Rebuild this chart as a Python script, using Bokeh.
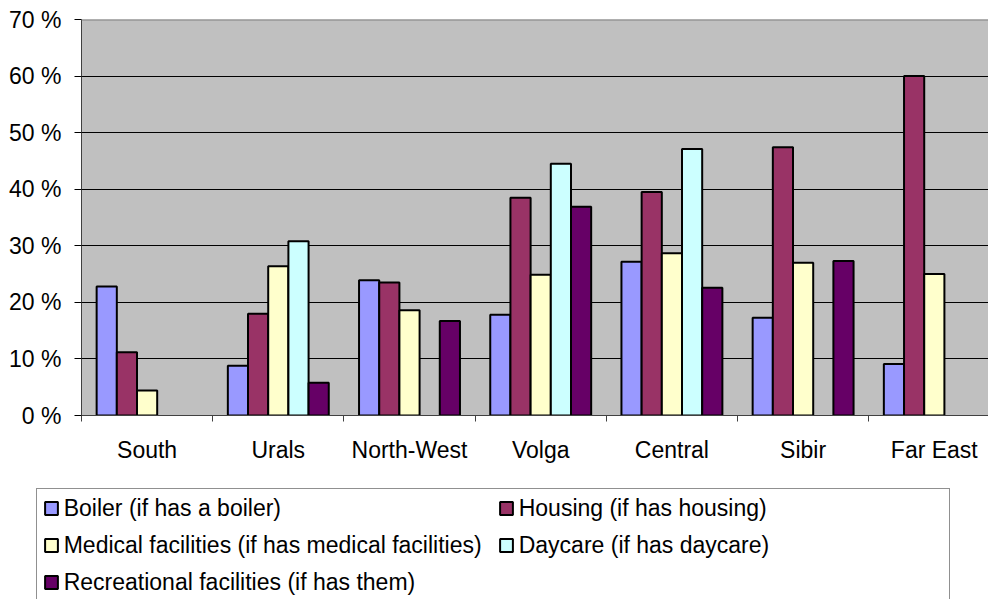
from bokeh.plotting import figure
from bokeh.layouts import column
from bokeh.models import (ColumnDataSource, Range1d, FixedTicker, PrintfTickFormatter,
                          Legend, LegendItem, Span)
from bokeh.transform import dodge
from bokeh.embed import file_html
from bokeh.resources import INLINE

nan = float("nan")

categories = ["South", "Urals", "North-West", "Volga", "Central", "Sibir", "Far East"]
series_names = [
    "Boiler (if has a boiler)",
    "Housing (if has housing)",
    "Medical facilities (if has medical facilities)",
    "Daycare (if has daycare)",
    "Recreational facilities (if has them)",
]
boiler = [22.8, 8.8, 23.9, 17.8, 27.2, 17.3, 9.1]
housing = [11.2, 18.0, 23.5, 38.5, 39.5, 47.4, 60.0]
medical = [4.4, 26.4, 18.6, 24.9, 28.7, 27.0, 25.0]
daycare = [nan, 30.8, nan, 44.5, 47.1, nan, nan]
recreational = [nan, 5.8, 16.7, 36.9, 22.6, 27.3, nan]
colors = ["#9999FF", "#993366", "#FFFFCC", "#CCFFFF", "#660066"]
y_ticks = [0, 10, 20, 30, 40, 50, 60, 70]

series = [boiler, housing, medical, daycare, recreational]
FONT = "Liberation Sans"
FS = "23px"

W = 988
H1 = 480
H2 = 599 - H1

n = len(categories)
centers = [i + 0.5 for i in range(n)]
bounds = [float(i) for i in range(n + 1)]
bw = 1 / 6.5

p = figure(width=W, height=H1,
           x_range=Range1d(0, 6.913), y_range=Range1d(0, 70),
           output_backend="svg", toolbar_location=None,
           min_border_left=81, min_border_right=0, min_border_top=19,
           min_border_bottom=H1 - 415,
           background_fill_color="#C0C0C0", border_fill_color="white",
           outline_line_color=None)
p.frame_align = False

for k, (vals, col) in enumerate(zip(series, colors)):
    src = ColumnDataSource(dict(x=centers, top=vals))
    p.vbar(x=dodge("x", (k - 2) * bw), top="top", bottom=0, width=bw, source=src,
           fill_color=col, line_color="black", line_width=2)

# grid
p.xgrid.visible = False
p.ygrid.ticker = FixedTicker(ticks=y_ticks[1:-1])
p.ygrid.grid_line_color = "black"
p.ygrid.grid_line_width = 1

p.add_layout(Span(location=y_ticks[-1], dimension="width", line_color="#808080", line_width=2))

# y axis
ya = p.yaxis[0]
ya.ticker = FixedTicker(ticks=y_ticks)
ya.formatter = PrintfTickFormatter(format="%d %%")
ya.axis_line_color = "#404040"
ya.major_tick_line_color = "black"
ya.major_tick_out = 7
ya.major_tick_in = 0
ya.minor_tick_out = 0
ya.minor_tick_in = 0
ya.major_label_standoff = 13
ya.major_label_text_font = FONT
ya.major_label_text_font_size = FS
ya.major_label_text_color = "black"

# x axis
xa = p.xaxis[0]
xa.ticker = FixedTicker(ticks=centers, minor_ticks=bounds)
xa.major_label_overrides = {c: lab for c, lab in zip(centers, categories)}
xa.axis_line_color = "#404040"
xa.major_tick_out = 0
xa.major_tick_in = 0
xa.minor_tick_out = 6
xa.minor_tick_in = 0
xa.minor_tick_line_color = "#404040"
xa.major_label_standoff = 15
xa.major_label_text_font = FONT
xa.major_label_text_font_size = FS
xa.major_label_text_color = "black"

# legend figure (below the chart)
p2 = figure(width=W, height=H2, x_range=Range1d(0, 1), y_range=Range1d(0, 1),
            output_backend="svg", toolbar_location=None,
            x_axis_location=None, y_axis_location=None,
            min_border=0, outline_line_color=None,
            background_fill_color="white", border_fill_color="white")
p2.frame_align = False
p2.xgrid.visible = False
p2.ygrid.visible = False

items = []
for name, col in zip(series_names, colors):
    r = p2.vbar(x=[nan], top=[nan], width=0.1, fill_color=col, line_color="black", line_width=2)
    items.append(LegendItem(label=name, renderers=[r]))

pad, lh, sp = 6, 27, 10
leg_h = 2 * pad + 3 * lh + 2 * sp
leg_top = 489.7 - H1
legend = Legend(items=items, orientation="horizontal", ncols=2,
                location=(35.7, H2 - leg_top - leg_h),
                padding=pad, spacing=sp, margin=0,
                glyph_width=16, glyph_height=16, label_height=lh, label_width=424,
                label_standoff=5,
                label_text_font=FONT, label_text_font_size=FS, label_text_color="black",
                border_line_color="#222222", border_line_width=1,
                background_fill_color="white", background_fill_alpha=1.0)
p2.add_layout(legend, "center")

layout = column(p, p2, spacing=0)
open("out.html", "w").write(file_html(layout, INLINE))
